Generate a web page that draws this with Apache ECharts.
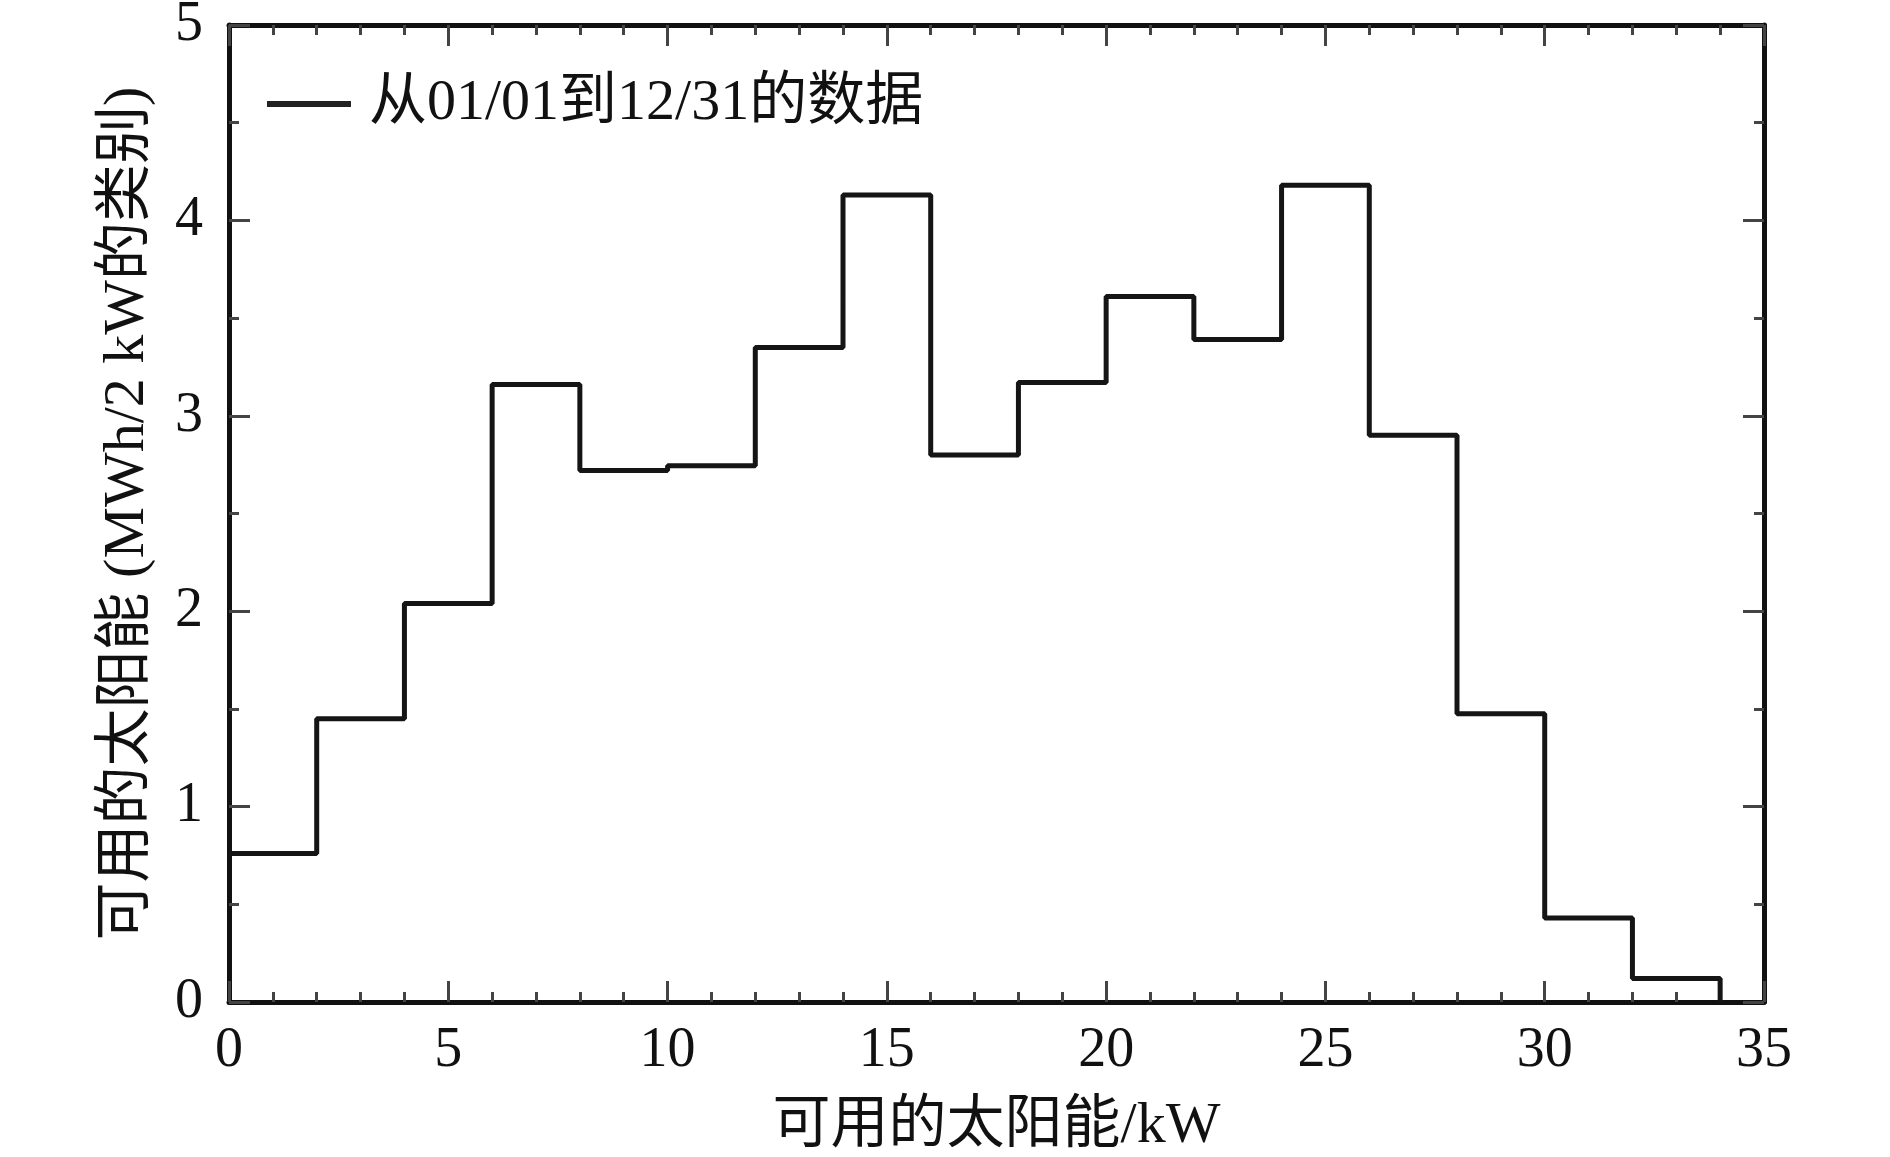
<!DOCTYPE html>
<html>
<head>
<meta charset="utf-8">
<script src="https://cdn.jsdelivr.net/npm/echarts@6/dist/echarts.min.js"></script>
<style>
html,body{margin:0;padding:0;background:#fff;}
#chart{width:1890px;height:1157px;}
</style>
</head>
<body>
<div id="chart"></div>
<script>
const binStarts = [0, 2, 4, 6, 8, 10, 12, 14, 16, 18, 20, 22, 24, 26, 28, 30, 32];
const binEnd = 34;
const energy = [0.76, 1.45, 2.04, 3.16, 2.72, 2.745, 3.35, 4.13, 2.80, 3.17, 3.61, 3.39, 4.18, 2.90, 1.475, 0.43, 0.12];
const seriesName = '从01/01到12/31的数据';
const xName = '可用的太阳能/kW';
const yName = '可用的太阳能 (MWh/2 kW的类别)';

const stepData = binStarts.map((x, i) => [x, energy[i]]);
stepData.push([binEnd, 0]);

const FONT = "'Liberation Serif', 'Times New Roman', 'Noto Sans CJK SC', serif";
const FS = 56;
const FSN = 58;
const frameLine = { show: true, onZero: false, lineStyle: { color: '#111', width: 5 } };
const tickStyle = { color: '#444', width: 3 };

function xAx(pos, showLabel) {
  return {
    type: 'value', position: pos, min: 0, max: 35, interval: 5,
    axisLine: frameLine,
    axisTick: { show: true, inside: true, length: 21, lineStyle: tickStyle },
    minorTick: { show: true, splitNumber: 5, length: 10, lineStyle: tickStyle },
    splitLine: { show: false },
    axisLabel: { show: showLabel, fontFamily: FONT, fontSize: FS, color: '#111', margin: 21 },
    name: showLabel ? xName : '',
    nameLocation: 'middle', nameGap: 96,
    nameTextStyle: { fontFamily: FONT, fontSize: FSN, color: '#111' }
  };
}
function yAx(pos, showLabel) {
  return {
    type: 'value', position: pos, min: 0, max: 5, interval: 1,
    axisLine: frameLine,
    axisTick: { show: true, inside: true, length: 21, lineStyle: tickStyle },
    minorTick: { show: true, splitNumber: 2, length: 10, lineStyle: tickStyle },
    splitLine: { show: false },
    axisLabel: { show: showLabel, fontFamily: FONT, fontSize: FS, color: '#111', margin: 26 },
    name: showLabel ? yName : '',
    nameLocation: 'middle', nameGap: 72, nameRotate: 90,
    nameTextStyle: { fontFamily: FONT, fontSize: FSN, color: '#111' }
  };
}

const chart = echarts.init(document.getElementById('chart'), null, { renderer: 'canvas' });
chart.setOption({
  backgroundColor: '#fff',
  animation: false,
  grid: { left: 229, right: 126, top: 25, bottom: 155, containLabel: false, outerBoundsMode: 'none' },
  xAxis: [xAx('bottom', true), xAx('top', false)],
  yAxis: [yAx('left', true), yAx('right', false)],
  legend: {
    left: 262, top: 70,
    data: [{ name: seriesName, icon: 'rect' }],
    itemWidth: 84, itemHeight: 6,
    textStyle: { fontFamily: FONT, fontSize: FSN, color: '#111', padding: [0, 0, 0, 13] }
  },
  series: [{
    name: seriesName,
    type: 'line',
    xAxisIndex: 0, yAxisIndex: 0,
    step: 'end',
    showSymbol: false,
    data: stepData,
    lineStyle: { color: '#151515', width: 5 },
    itemStyle: { color: '#222' }
  }]
});
</script>
</body>
</html>
